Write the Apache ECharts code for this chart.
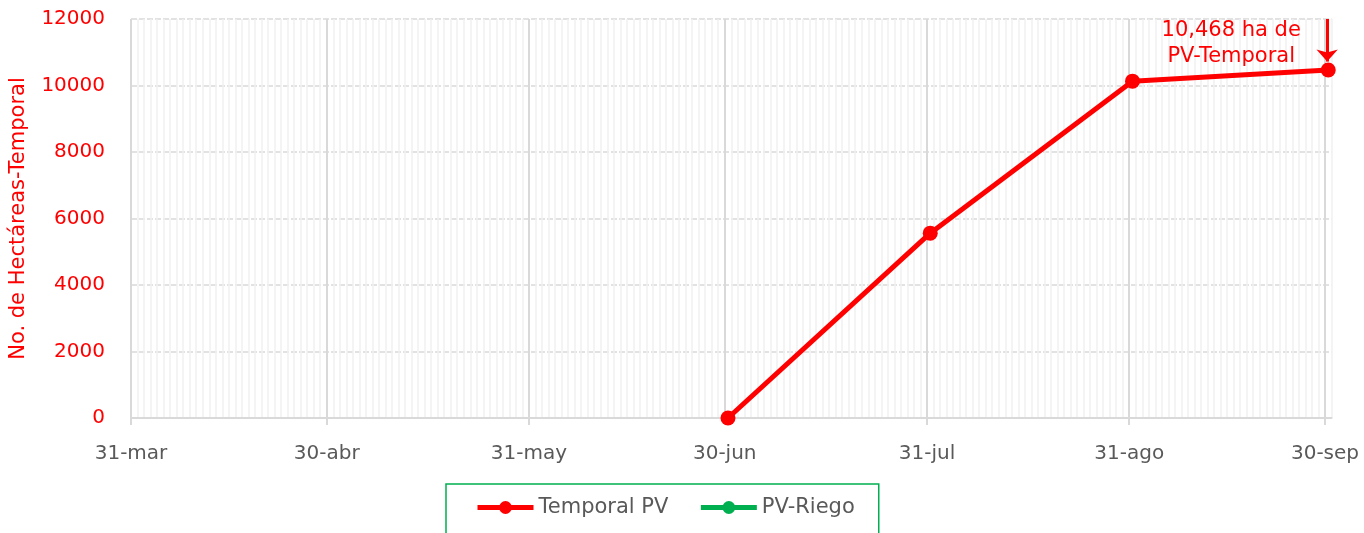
<!DOCTYPE html>
<html>
<head>
<meta charset="utf-8">
<script src="https://cdn.jsdelivr.net/npm/echarts@6/dist/echarts.min.js"></script>
<style>
html,body{margin:0;padding:0;background:#fff;}
#chart{width:1364px;height:533px;}
</style>
</head>
<body>
<div id="chart"></div>
<script>
// ---- data ----
const axisStart = '2023-03-31';
const axisEnd = '2023-10-01';
const tickDates = ['2023-03-31','2023-04-30','2023-05-31','2023-06-30','2023-07-31','2023-08-31','2023-09-30'];
const tickLabels = ['31-mar','30-abr','31-may','30-jun','31-jul','31-ago','30-sep'];
const temporalDates = ['2023-06-30T12:00:00Z','2023-07-31T12:00:00Z','2023-08-31T12:00:00Z','2023-09-30T12:00:00Z'];
const temporalValues = [0, 5560, 10130, 10468];
const riegoDates = [];
const riegoValues = [];
const yTicks = [0, 2000, 4000, 6000, 8000, 10000, 12000];
const annotationText = '10,468 ha de\nPV-Temporal';
const arrowFromValue = 12000;
const arrowToValue = 10720;
const arrowDate = '2023-09-30T08:00:00Z';

// ---- helpers ----
const DAY = 86400000;
const t0 = Date.parse(axisStart);
const dayIndex = d => (Date.parse(d) - t0) / DAY;
const tickDays = tickDates.map(dayIndex);
const labelMap = {};
tickDays.forEach((d, i) => { labelMap[d] = tickLabels[i]; });
const lastIdx = temporalValues.length - 1;
const xMax = dayIndex(axisEnd);

const font = 'DejaVu Sans';
const temporalData = temporalValues.map((v, i) => {
  const item = { value: [dayIndex(temporalDates[i]), v] };
  if (i === lastIdx) {
    item.label = {
      show: true, formatter: annotationText, position: 'top', offset: [-97, 12],
      color: '#ff0000', fontSize: 21, lineHeight: 26, align: 'center',
      fontFamily: font
    };
  }
  return item;
});
const arrowX = dayIndex(arrowDate);

const chart = echarts.init(document.getElementById('chart'), null, { renderer: 'canvas' });
chart.setOption({
  animation: false,
  backgroundColor: '#ffffff',
  grid: { left: 131, right: 32.5, top: 19, bottom: 115, containLabel: false, outerBoundsMode: 'none' },
  xAxis: [
    {
      type: 'value',
      min: 0,
      max: xMax,
      z: 2,
      axisLine: { show: true, lineStyle: { color: '#d9d9d9', width: 2 } },
      axisTick: { show: true, customValues: tickDays, length: 7, lineStyle: { color: '#d9d9d9', width: 2 } },
      axisLabel: {
        customValues: tickDays, margin: 26, color: '#595959', fontSize: 20, fontFamily: font,
        formatter: v => labelMap[v] || ''
      },
      splitLine: { show: true, lineStyle: { color: '#d9d9d9', width: 2 } }
    },
    {
      type: 'value',
      min: 0,
      max: xMax,
      interval: 1,
      z: 1,
      position: 'bottom',
      axisLine: { show: false },
      axisTick: { show: false },
      axisLabel: { show: false },
      splitLine: { show: true, lineStyle: { color: '#f0f0f0', width: 1.5 } }
    }
  ],
  yAxis: {
    type: 'value',
    min: yTicks[0],
    max: yTicks[yTicks.length - 1],
    interval: 2000,
    name: 'No. de Hectáreas-Temporal',
    nameLocation: 'middle',
    nameGap: 102,
    nameTextStyle: { color: '#ff0000', fontSize: 21, fontFamily: font },
    axisLine: { show: false },
    axisTick: { show: false },
    axisLabel: { color: '#ff0000', fontSize: 20, margin: 26, fontFamily: font, formatter: v => String(v) },
    splitLine: { show: true, lineStyle: { color: '#d9d9d9', width: 1.5, type: [6, 2] } }
  },
  legend: {
    left: 446,
    top: 484,
    padding: [13, 24, 30, 29],
    borderColor: '#00b050',
    borderWidth: 1.5,
    itemWidth: 56,
    itemHeight: 16,
    itemGap: 30,
    lineStyle: { width: 5 },
    textStyle: { color: '#595959', fontSize: 21, fontFamily: font },
    data: ['Temporal PV', 'PV-Riego']
  },
  series: [
    {
      name: 'Temporal PV',
      type: 'line',
      z: 5,
      xAxisIndex: 0,
      data: temporalData,
      symbol: 'circle',
      symbolSize: 15,
      lineStyle: { color: '#ff0000', width: 5 },
      itemStyle: { color: '#ff0000' },
      clip: false,
      markLine: {
        silent: true,
        symbol: ['none', 'arrow'],
        symbolSize: [16, 12],
        label: { show: false },
        lineStyle: { color: '#ff0000', width: 3, type: 'solid' },
        data: [[{ coord: [arrowX, arrowFromValue] }, { coord: [arrowX, arrowToValue] }]]
      }
    },
    {
      name: 'PV-Riego',
      type: 'line',
      z: 4,
      xAxisIndex: 0,
      data: riegoValues.map((v, i) => [dayIndex(riegoDates[i]), v]),
      symbol: 'circle',
      symbolSize: 15,
      lineStyle: { color: '#00b050', width: 5 },
      itemStyle: { color: '#00b050' }
    }
  ]
});
</script>
</body>
</html>
